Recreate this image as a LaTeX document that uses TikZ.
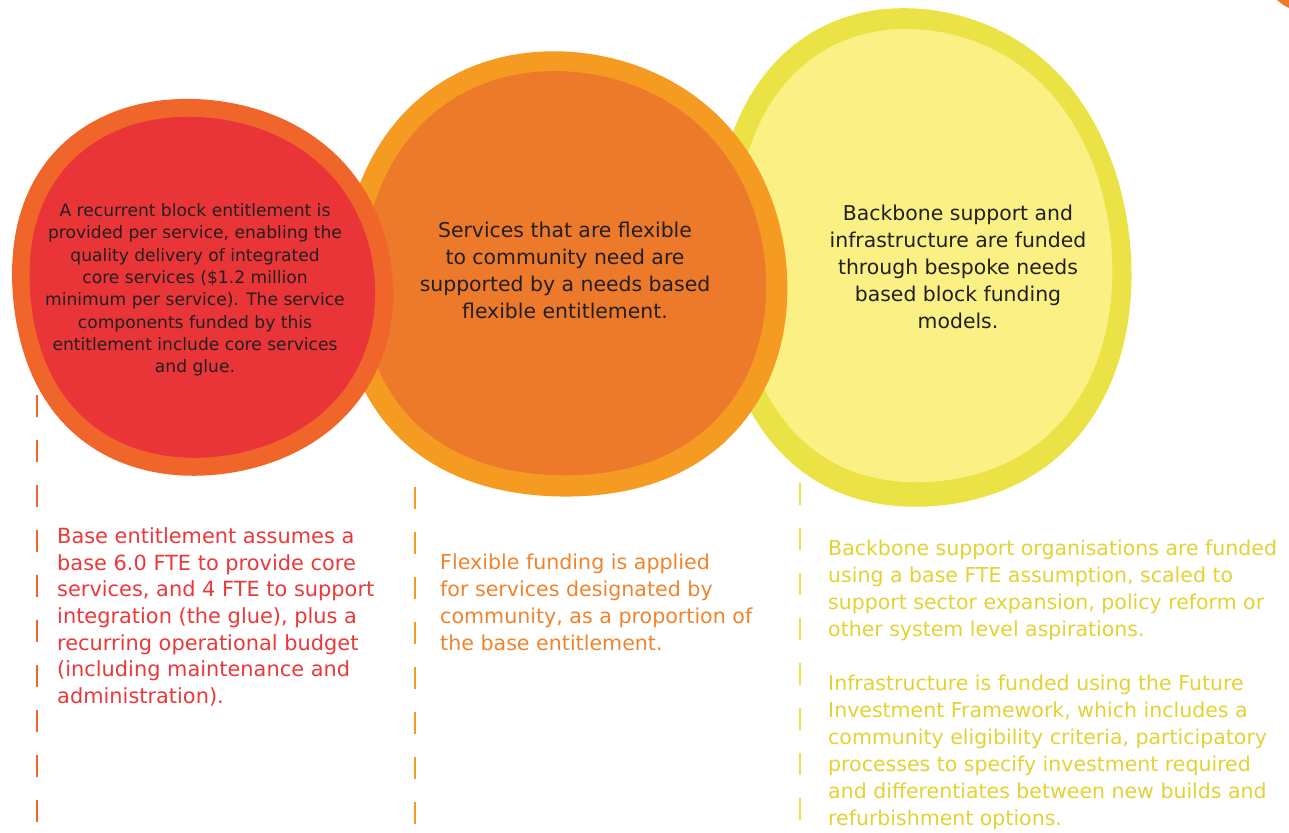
\documentclass[tikz,border=0pt]{standalone}
\usepackage{fontspec}
\setmainfont{DejaVu Sans}
\definecolor{redring}{RGB}{240,101,42}
\definecolor{redfill}{RGB}{233,53,56}
\definecolor{orring}{RGB}{245,155,34}
\definecolor{orfill}{RGB}{236,122,42}
\definecolor{yering}{RGB}{235,226,69}
\definecolor{yefill}{RGB}{250,240,131}
\definecolor{darktext}{RGB}{35,31,32}
\definecolor{redtext}{RGB}{236,56,58}
\definecolor{ortext}{RGB}{240,132,44}
\definecolor{yetext}{RGB}{226,210,52}
\tikzset{
  guide/.style={line width=2.4pt, dash pattern=on 22pt off 23pt},
  circletext/.style={align=center, text=darktext, inner sep=0pt},
  sidetext/.style={align=left, anchor=west, inner sep=0pt}
}
% blob: #1 colour, #2 cx, #3 cy, #4 rx, #5 ry, #6 amp2, #7 phase2, #8 amp3, #9 phase3
% \blobsq = amplitude of 4th harmonic (negative = squarer), \blobsqph its phase
\def\blobsq{0}\def\blobsqph{0}
\newcommand{\myblob}[9]{%
  \fill[#1] plot[domain=0:358, samples=120, smooth]
   ({#2+#4*(1+#6*sin(2*\x+#7)+#8*sin(3*\x+#9)+\blobsq*cos(4*\x+\blobsqph))*cos(\x)},
    {#3+#5*(1+#6*sin(2*\x+#7)+#8*sin(3*\x+#9)+\blobsq*cos(4*\x+\blobsqph))*sin(\x)}) -- cycle;}
\begin{document}
\begin{tikzpicture}[x=1pt,y=-1pt]
\useasboundingbox (0,0) rectangle (1289,832);
% dashed guide lines (under the blobs)
\coordinate (g1a) at (37,395);  \coordinate (g1b) at (37,832);
\coordinate (g2a) at (415,487); \coordinate (g2b) at (415,832);
\coordinate (g3a) at (800,393); \coordinate (g3b) at (800,832);
\draw[guide, redring] (g1a) -- (g1b);
\draw[guide, orring] (g2a) -- (g2b);
\draw[guide, yering] (g3a) -- (g3b);
% yellow blob
\def\blobsq{-0.014}\def\blobsqph{10}
\myblob{yering}{920}{259}{210}{254}{0.018}{20}{0.014}{70}
\myblob{yefill}{921}{257}{190}{231}{0.018}{20}{0.014}{70}
% orange blob
\def\blobsq{-0.012}\def\blobsqph{-10}
\myblob{orring}{563}{277}{223}{228}{0.014}{60}{0.014}{20}
\myblob{orfill}{563}{276}{202}{207}{0.014}{60}{0.014}{20}
% red blob
\def\blobsq{-0.012}\def\blobsqph{15}
\myblob{redring}{200}{287}{194}{189}{0.015}{-30}{0.014}{100}
\myblob{redfill}{200}{287}{176}{171}{0.015}{-30}{0.014}{100}
% small corner shape
\fill[orfill] (1277,0) -- (1289,0) -- (1289,8) .. controls (1283,5) .. (1277,0) -- cycle;
% circle texts
\node[circletext, font=\fontsize{17.1}{22.3}\selectfont] (t1) at (195,290)
 {A recurrent block entitlement is\\provided per service, enabling the\\quality delivery of integrated\\core services (\$1.2 million\\minimum per service). The service\\components funded by this\\entitlement include core services\\and glue.};
\node[circletext, font=\fontsize{20.4}{27}\selectfont] (t2) at (565,270)
 {Services that are flexible\\to community need are\\supported by a needs based\\flexible entitlement.};
\node[circletext, font=\fontsize{20.4}{27}\selectfont] (t3) at (958,267)
 {Backbone support and\\infrastructure are funded\\through bespoke needs\\based block funding\\models.};
% side texts
\node[sidetext, text=redtext, font=\fontsize{20.9}{26.7}\selectfont] (s1) at (57,617)
 {Base entitlement assumes a\\base 6.0 FTE to provide core\\services, and 4 FTE to support\\integration (the glue), plus a\\recurring operational budget\\(including maintenance and\\administration).};
\node[sidetext, text=ortext, font=\fontsize{20.6}{27}\selectfont] (s2) at (440,602.5)
 {Flexible funding is applied\\for services designated by\\community, as a proportion of\\the base entitlement.};
\node[sidetext, text=yetext, font=\fontsize{20.5}{27}\selectfont] (s3) at (828,685)
 {Backbone support organisations are funded\\using a base FTE assumption, scaled to\\support sector expansion, policy reform or\\other system level aspirations.\\[27pt]Infrastructure is funded using the Future\\Investment Framework, which includes a\\community eligibility criteria, participatory\\processes to specify investment required\\and differentiates between new builds and\\refurbishment options.};
\end{tikzpicture}
\end{document}
